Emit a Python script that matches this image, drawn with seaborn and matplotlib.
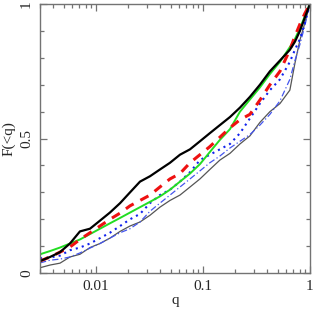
import numpy as np
import pandas as pd
import matplotlib
matplotlib.use("Agg")
import matplotlib.pyplot as plt
import seaborn as sns
from matplotlib.ticker import FixedLocator, NullFormatter, LogLocator

# sample points in q (shared by all curves)
q = [0.0030, 0.00372, 0.00461, 0.00571, 0.00708, 0.00879, 0.0109, 0.0135,
     0.0168, 0.0208, 0.0258, 0.0320, 0.0396, 0.0492, 0.0610, 0.0757, 0.0938,
     0.116, 0.144, 0.179, 0.222, 0.275, 0.341, 0.423, 0.525, 0.650, 0.725,
     0.807, 0.898, 1.0]

f_black = [0.045, 0.06, 0.078, 0.11, 0.155, 0.165, 0.195, 0.225, 0.26, 0.30,
           0.34, 0.36, 0.385, 0.41, 0.44, 0.46, 0.49, 0.52, 0.55, 0.58, 0.615,
           0.655, 0.70, 0.75, 0.79, 0.83, 0.86, 0.90, 0.95, 1.0]
f_red = [0.045, 0.06, 0.078, 0.097, 0.125, 0.15, 0.175, 0.20, 0.223, 0.25,
         0.27, 0.29, 0.32, 0.35, 0.37, 0.41, 0.44, 0.47, 0.505, 0.54, 0.57,
         0.59, 0.643, 0.70, 0.75, 0.83, 0.88, 0.925, 0.965, 1.0]
f_green = [0.07, 0.082, 0.095, 0.11, 0.125, 0.145, 0.165, 0.185, 0.205, 0.225,
           0.245, 0.265, 0.285, 0.31, 0.34, 0.37, 0.405, 0.45, 0.495, 0.535,
           0.60, 0.645, 0.69, 0.74, 0.785, 0.84, 0.87, 0.91, 0.955, 1.0]
f_dot = [0.055, 0.058, 0.065, 0.085, 0.095, 0.11, 0.13, 0.15, 0.175, 0.20,
         0.22, 0.26, 0.29, 0.31, 0.34, 0.375, 0.42, 0.44, 0.46, 0.48, 0.52,
         0.575, 0.63, 0.68, 0.72, 0.785, 0.83, 0.87, 0.93, 1.0]
f_dashdot = [0.038, 0.048, 0.052, 0.06, 0.075, 0.093, 0.11, 0.13, 0.15, 0.165,
             0.19, 0.23, 0.26, 0.29, 0.32, 0.35, 0.38, 0.41, 0.435, 0.465,
             0.49, 0.515, 0.55, 0.59, 0.64, 0.72, 0.79, 0.85, 0.92, 1.0]
f_gray = [0.02, 0.03, 0.037, 0.06, 0.07, 0.095, 0.11, 0.13, 0.155, 0.175,
          0.19, 0.215, 0.245, 0.27, 0.29, 0.32, 0.35, 0.385, 0.42, 0.445,
          0.48, 0.51, 0.56, 0.60, 0.63, 0.68, 0.78, 0.866, 0.93, 1.0]

sns.set_style("ticks")
plt.rcParams['font.family'] = ['Liberation Serif', 'DejaVu Serif']

fig = plt.figure(figsize=(3.13, 3.10), dpi=100)
ax = fig.add_axes([0.128, 0.119, 0.862, 0.868])

styles = [
    (f_gray, dict(color='#555555', lw=0.9)),
    (f_dashdot, dict(color='#4455ee', lw=0.9, dashes=(5, 2, 1, 2))),
    (f_dot, dict(color='#1122ee', lw=1.5, dashes=(1, 2))),
    (f_green, dict(color='#22dd22', lw=1.4)),
    (f_red, dict(color='#ee1111', lw=2.2, dashes=(3, 2.5))),
    (f_black, dict(color='black', lw=1.6)),
]
for f, kw in styles:
    df = pd.DataFrame({'q': q, 'F': f})
    sns.lineplot(data=df, x='q', y='F', ax=ax, estimator=None, sort=False, **kw)

ax.set_xscale('log')
ax.set_xlim(0.003, 1)
ax.set_ylim(0, 1)

ax.set_xticks([0.01, 0.1, 1])
ax.set_xticklabels(['0.01', '0.1', '1'])
ax.xaxis.set_minor_locator(LogLocator(base=10, subs=np.arange(2, 10)))
ax.xaxis.set_minor_formatter(NullFormatter())
ax.set_yticks([0, 0.5, 1])
ax.set_yticklabels(['0', '0.5', '1'], rotation=90, va='center')
ax.yaxis.set_minor_locator(FixedLocator(np.arange(0.1, 1.0, 0.1)))

for sp in ax.spines.values():
    sp.set_visible(True)
    sp.set_color('0.45')
    sp.set_linewidth(1.0)
ax.tick_params(which='both', direction='in', top=True, right=True,
               color='0.45', labelsize=11, width=0.9)
ax.tick_params(which='major', length=5, pad=5)
ax.tick_params(which='minor', length=3)

ax.set_xlabel('q', fontsize=11, labelpad=1)
ax.set_ylabel('F(<q)', fontsize=11, labelpad=3)

fig.savefig('out.png', dpi=100)
